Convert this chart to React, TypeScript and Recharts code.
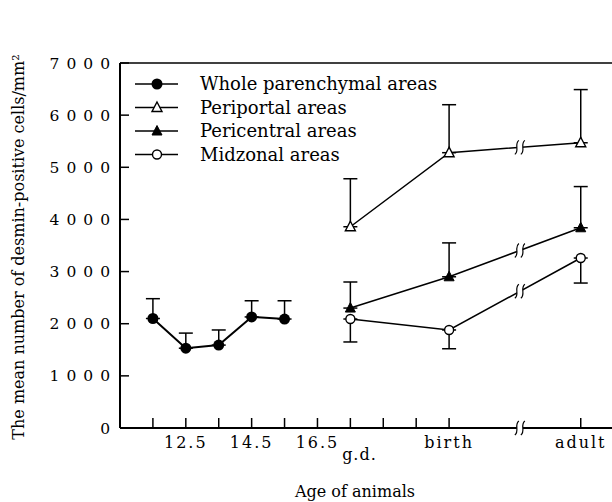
import React from "react";
import {
  LineChart,
  Line,
  XAxis,
  YAxis,
  ErrorBar,
  ReferenceLine,
  ReferenceDot,
} from "recharts";

const FONT = "'DejaVu Serif', serif";

// fetal days (position on the x axis)
const EARLY_DAYS = [11.5, 12.5, 13.5, 14.5, 15.5];
const WHOLE_MEAN = [2100, 1530, 1590, 2130, 2090];
const WHOLE_SD = [380, 290, 290, 310, 350];

// g.d. / birth / adult positions
const LATE_POS = [17.5, 20.5, 24.5];
const PERIPORTAL_MEAN = [3860, 5280, 5470];
const PERIPORTAL_SD = [920, 920, 1020];
const PERICENTRAL_MEAN = [2300, 2900, 3840];
const PERICENTRAL_SD = [500, 650, 790];
const MIDZONAL_MEAN = [2090, 1880, 3260];
const MIDZONAL_SD = [440, 360, 480];

const X_TICKS = [11.5, 12.5, 13.5, 14.5, 15.5, 16.5, 17.5, 18.5, 19.5, 20.5, 24.5];
const X_LABELS: Record<string, string> = {
  "12.5": "12.5",
  "14.5": "14.5",
  "16.5": "16.5",
  "20.5": "birth",
  "24.5": "adult",
};
const X_UNIT = "g.d.";
const Y_TICKS = [0, 1000, 2000, 3000, 4000, 5000, 6000, 7000];
const BREAK_X = 22.65;

type Marker = "filledCircle" | "openTriangle" | "filledTriangle" | "openCircle";

const build = (xs: number[], ys: number[], sd: number[], dir: "up" | "down") =>
  xs.map((x, i) => ({ x, y: ys[i], err: dir === "up" ? [0, sd[i]] : [sd[i], 0] }));

const SERIES: { name: string; data: any[]; marker: Marker; width: number; broken: boolean }[] = [
  { name: "Whole parenchymal areas", data: build(EARLY_DAYS, WHOLE_MEAN, WHOLE_SD, "up"), marker: "filledCircle", width: 2, broken: false },
  { name: "Periportal areas", data: build(LATE_POS, PERIPORTAL_MEAN, PERIPORTAL_SD, "up"), marker: "openTriangle", width: 1.5, broken: true },
  { name: "Pericentral areas", data: build(LATE_POS, PERICENTRAL_MEAN, PERICENTRAL_SD, "up"), marker: "filledTriangle", width: 1.5, broken: true },
  { name: "Midzonal areas", data: build(LATE_POS, MIDZONAL_MEAN, MIDZONAL_SD, "down"), marker: "openCircle", width: 1.5, broken: true },
];

function drawMarker(kind: Marker, cx: number, cy: number, key?: any) {
  if (kind === "filledCircle") return <circle key={key} cx={cx} cy={cy} r={5.5} fill="#000" />;
  if (kind === "openCircle")
    return <circle key={key} cx={cx} cy={cy} r={4.5} fill="#fff" stroke="#000" strokeWidth={1.4} />;
  const d = `M${cx},${cy - 5.5} L${cx + 5},${cy + 4} L${cx - 5},${cy + 4} Z`;
  if (kind === "filledTriangle") return <path key={key} d={d} fill="#000" stroke="#000" strokeWidth={1} />;
  return <path key={key} d={d} fill="#fff" stroke="#000" strokeWidth={1.4} />;
}

// value of a series where the break mark sits (between the last two points)
function valueAtBreak(data: any[]) {
  const a = data[data.length - 2];
  const b = data[data.length - 1];
  return a.y + ((b.y - a.y) * (BREAK_X - a.x)) / (b.x - a.x);
}

const BreakMark = (props: any) => {
  const { cx, cy } = props;
  if (cx == null || cy == null) return <g />;
  const s = (xc: number) =>
    `M${xc + 2},${cy - 7} C${xc - 3},${cy - 3} ${xc + 3},${cy + 3} ${xc - 2},${cy + 7}`;
  return (
    <g>
      <rect x={cx - 3} y={cy - 6} width={6} height={12} fill="#fff" />
      <path d={s(cx - 3)} fill="none" stroke="#000" strokeWidth={1.2} />
      <path d={s(cx + 3)} fill="none" stroke="#000" strokeWidth={1.2} />
    </g>
  );
};

const YTick = (props: any) => {
  const { x, y, payload } = props;
  return (
    <g>
      <line x1={x} x2={x + 9} y1={y} y2={y} stroke="#000" strokeWidth={1.5} />
      <text x={x - 3} y={y} dy={5.5} textAnchor="end" fontFamily={FONT} fontSize={15.5} letterSpacing={7} fill="#000">
        {payload.value}
      </text>
    </g>
  );
};

const XTick = (props: any) => {
  const { x, y, payload } = props;
  const label = X_LABELS[String(payload.value)];
  return (
    <g>
      <line x1={x} x2={x} y1={y} y2={y - 10} stroke="#000" strokeWidth={1.5} />
      {label && (
        <text x={x} y={y + 20} textAnchor="middle" fontFamily={FONT} fontSize={16} letterSpacing={2} fill="#000">
          {label}
        </text>
      )}
      {payload.value === 16.5 && (
        <text x={x + 42} y={y + 32} textAnchor="middle" fontFamily={FONT} fontSize={16} letterSpacing={1} fill="#000">
          {X_UNIT}
        </text>
      )}
    </g>
  );
};

const LegendBox = () => (
  <svg width={360} height={110} style={{ position: "absolute", left: 120, top: 60 }}>
    {SERIES.map((s, i) => {
      const cy = 24 + i * 23.5;
      return (
        <g key={s.name}>
          <line x1={15} x2={58} y1={cy} y2={cy} stroke="#000" strokeWidth={1.5} />
          {drawMarker(s.marker, 37, cy)}
          <text x={80} y={cy + 6} fontFamily={FONT} fontSize={18} fill="#000">
            {s.name}
          </text>
        </g>
      );
    })}
  </svg>
);

export default function App() {
  return (
    <div style={{ position: "absolute", left: 0, top: 0, width: 612, height: 502, background: "#fff" }}>
      <LineChart width={612} height={502} margin={{ top: 63, right: 0, bottom: 0, left: 0 }}>
        <XAxis
          dataKey="x"
          type="number"
          domain={[10.5, 25.45]}
          ticks={X_TICKS}
          interval={0}
          allowDataOverflow
          height={74}
          tickSize={0}
          tickMargin={0}
          tickLine={false}
          tick={<XTick />}
          axisLine={{ stroke: "#000", strokeWidth: 2 }}
          label={{
            content: () => (
              <text x={355} y={497} textAnchor="middle" fontFamily={FONT} fontSize={16} fill="#000">
                Age of animals
              </text>
            ),
          }}
        />
        <YAxis
          type="number"
          domain={[0, 7000]}
          ticks={Y_TICKS}
          interval={0}
          width={120}
          tickSize={0}
          tickMargin={0}
          tickLine={false}
          tick={<YTick />}
          axisLine={{ stroke: "#000", strokeWidth: 2 }}
          label={{
            content: () => (
              <text
                x={24}
                y={247}
                transform="rotate(-90 24 247)"
                textAnchor="middle"
                fontFamily={FONT}
                fontSize={16}
                fill="#000"
              >
                The mean number of desmin-positive cells/mm²
              </text>
            ),
          }}
        />
        <ReferenceLine y={7000} stroke="#000" strokeWidth={1.5} />
        {SERIES.map((s) => (
          <Line
            key={s.name}
            name={s.name}
            data={s.data}
            dataKey="y"
            type="linear"
            stroke="#000"
            strokeWidth={s.width}
            isAnimationActive={false}
            dot={(p: any) => drawMarker(s.marker, p.cx, p.cy, `${s.name}-${p.index}`)}
            activeDot={false}
          >
            <ErrorBar dataKey="err" direction="y" width={7} stroke="#000" strokeWidth={1.5} />
          </Line>
        ))}
        {SERIES.filter((s) => s.broken).map((s) => (
          <ReferenceDot
            key={`brk-${s.name}`}
            x={BREAK_X}
            y={valueAtBreak(s.data)}
            ifOverflow="visible"
            shape={<BreakMark />}
          />
        ))}
        <ReferenceDot x={BREAK_X} y={0} ifOverflow="visible" shape={<BreakMark />} />
      </LineChart>
      <LegendBox />
    </div>
  );
}
